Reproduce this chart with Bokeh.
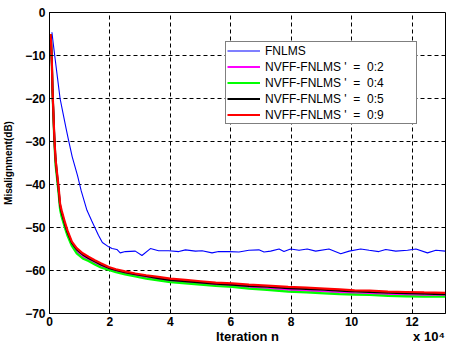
from bokeh.plotting import figure
from bokeh.models import Legend, LegendItem, LinearAxis, FixedTicker, Range1d
from bokeh.embed import file_html
from bokeh.resources import INLINE

# ---- data ----
blue_x = [800, 1200, 1900, 2700, 3500, 4500, 5500, 6300, 7500, 9300,
          10500, 12400, 14000, 16200, 17500, 19600, 20700, 22300, 23400, 25100,
          28400, 30600, 33400, 36100, 39500, 42800, 45000, 48300, 50500, 53800,
          56000, 59400, 62700, 66000, 69300, 71000, 73200, 76000, 77600, 79800,
          82600, 85300, 88100, 92500, 96400, 99200, 103000, 105800, 109000, 111300,
          114600, 118500, 121300, 125100, 127900, 131000]
fnlms = [-4.6, -7, -11, -15.5, -20, -23.5, -27, -29.7, -33.5, -38,
         -41.5, -46, -48.5, -51.8, -53.5, -54.5, -54.9, -55.1, -55.9, -55.6,
         -55.5, -56.5, -54.9, -55.4, -55.4, -55.6, -55.2, -55.5, -55.4, -55.9,
         -55.6, -55.6, -55.7, -55.3, -55.2, -55.7, -55.5, -55.0, -55.6, -55.0,
         -55.3, -55.0, -55.5, -55.0, -56.1, -55.5, -55.0, -55.3, -55.6, -55.1,
         -55.5, -55.3, -55.0, -55.9, -55.3, -55.5]

nv_x = [300, 500, 800, 1000, 1300, 1600, 2000, 2400, 3000, 3500,
        4000, 5200, 6000, 7400, 9000, 11000, 12900, 15000, 17000, 19600,
        22000, 25000, 28400, 32000, 36000, 40000, 45000, 50000, 55000, 60500,
        66000, 72000, 79000, 85000, 91000, 96000, 101000, 106000, 112000, 118000,
        124000, 131000]
nv_02 = [-5, -6.5, -12, -18.5, -24, -29.5, -35, -37.5, -41.5, -45.3,
         -47, -50, -51.7, -54, -55.6, -56.8, -57.5, -58.3, -59, -59.7,
         -60.2, -60.7, -61.2, -61.6, -62.1, -62.5, -62.8, -63.1, -63.4, -63.6,
         -63.9, -64.2, -64.5, -64.7, -64.9, -65.1, -65.3, -65.4, -65.6, -65.7,
         -65.8, -65.9]
nv_04 = [-5, -6.5, -12.5, -18.5, -24.5, -30, -35.5, -38, -42, -45.8,
         -47.5, -50.3, -52, -54.3, -56, -57.2, -57.8, -58.6, -59.3, -59.9,
         -60.4, -60.9, -61.4, -61.9, -62.3, -62.7, -63, -63.3, -63.6, -63.8,
         -64.2, -64.5, -64.9, -65.1, -65.3, -65.5, -65.6, -65.7, -65.9, -66,
         -66.1, -66.1]
nv_05 = [-5, -6.5, -12, -18, -23.5, -29, -34, -37, -41, -44.8,
         -46.5, -49.5, -51.2, -53.6, -55.1, -56.3, -57.1, -57.9, -58.6, -59.4,
         -59.9, -60.4, -60.9, -61.3, -61.8, -62.2, -62.5, -62.8, -63.1, -63.3,
         -63.6, -63.8, -64.1, -64.3, -64.5, -64.7, -64.9, -65.0, -65.2, -65.3,
         -65.4, -65.5]
nv_09 = [-5, -6.5, -12, -18, -23.5, -29, -34, -36.7, -40.5, -44.4,
         -46, -49, -50.8, -53.3, -54.8, -56, -56.8, -57.6, -58.3, -59.2,
         -59.7, -60.2, -60.7, -61.1, -61.5, -61.9, -62.2, -62.5, -62.8, -63.0,
         -63.3, -63.5, -63.8, -64.0, -64.2, -64.4, -64.6, -64.7, -64.9, -65.0,
         -65.1, -65.2]

series_labels = ["FNLMS", "NVFF-FNLMS '  =  0:2", "NVFF-FNLMS '  =  0:4",
                 "NVFF-FNLMS '  =  0:5", "NVFF-FNLMS '  =  0:9"]
x_ticks = [0, 20000, 40000, 60000, 80000, 100000, 120000]
x_tick_labels = ["0", "2", "4", "6", "8", "10", "12"]
y_ticks = [0, -10, -20, -30, -40, -50, -60, -70]
x_label = "Iteration n"
x_scale_note = "x 10\u2074"
X_MAX = 131072

FONT = "Liberation Sans"

p = figure(frame_width=396, frame_height=301, output_backend="svg",
           toolbar_location=None,
           x_range=Range1d(0, X_MAX), y_range=Range1d(-70, 0),
           min_border_left=48, min_border_right=8, min_border_top=12,
           min_border_bottom=0)
p.background_fill_color = "white"
p.border_fill_color = "white"
p.outline_line_color = "black"
p.outline_line_width = 1

for ax in (p.xaxis[0], p.yaxis[0]):
    ax.major_label_text_font = FONT
    ax.major_label_text_font_style = "bold"
    ax.major_label_text_font_size = "12px"
    ax.major_label_text_color = "black"
    ax.axis_label_text_font = FONT
    ax.axis_label_text_font_style = "bold"
    ax.axis_label_text_color = "black"
    ax.axis_line_color = "black"
    ax.major_tick_line_color = "black"
    ax.major_tick_in = 4
    ax.major_tick_out = 0
    ax.minor_tick_line_color = None

p.xaxis.ticker = FixedTicker(ticks=x_ticks)
p.xaxis.major_label_overrides = dict(zip(x_ticks, x_tick_labels))
p.xaxis.major_label_standoff = 3
p.yaxis.ticker = FixedTicker(ticks=y_ticks)
p.yaxis.axis_label = "Misalignment(dB)"
p.yaxis.axis_label_text_font_size = "10px"
p.yaxis.major_label_standoff = 4
p.yaxis.axis_label_standoff = 8

# second row under the x axis: axis title (centred) and the x 10^4 multiplier (right)
note_ticks = [X_MAX / 2, 125600]
ax2 = LinearAxis(ticker=FixedTicker(ticks=note_ticks),
                 major_label_overrides={note_ticks[0]: x_label,
                                        note_ticks[1]: x_scale_note},
                 axis_line_color=None, major_tick_line_color=None,
                 minor_tick_line_color=None, major_tick_in=0, major_tick_out=0,
                 major_label_standoff=0, major_label_text_font=FONT,
                 major_label_text_font_style="bold",
                 major_label_text_font_size="13px",
                 major_label_text_color="black")
p.add_layout(ax2, "below")

p.grid.grid_line_color = "black"
p.grid.grid_line_dash = "4 3"
p.grid.grid_line_width = 1
p.xgrid.ticker = FixedTicker(ticks=x_ticks)
p.ygrid.ticker = FixedTicker(ticks=y_ticks)

r0 = p.line(blue_x, fnlms, line_color="#0000ff", line_width=1.1)
r1 = p.line(nv_x, nv_02, line_color="#ff00ff", line_width=2)
r2 = p.line(nv_x, nv_04, line_color="#00ff00", line_width=2.2)
r3 = p.line(nv_x, nv_05, line_color="black", line_width=2)
r4 = p.line(nv_x, nv_09, line_color="#ff0000", line_width=2.2)

items = [LegendItem(label=l, renderers=[r]) for l, r in
         zip(series_labels, [r0, r1, r2, r3, r4])]
legend = Legend(items=items, location=(176, 189))
legend.label_text_font = FONT
legend.label_text_font_size = "12px"
legend.label_text_color = "black"
legend.glyph_width = 33
legend.glyph_height = 15
legend.label_height = 15
legend.label_width = 150
legend.label_standoff = 5
legend.spacing = 1
legend.padding = 1
legend.margin = 0
legend.border_line_color = "black"
legend.border_line_width = 1
legend.background_fill_color = "white"
legend.background_fill_alpha = 1
p.add_layout(legend)

open("out.html", "w").write(file_html(p, INLINE))
